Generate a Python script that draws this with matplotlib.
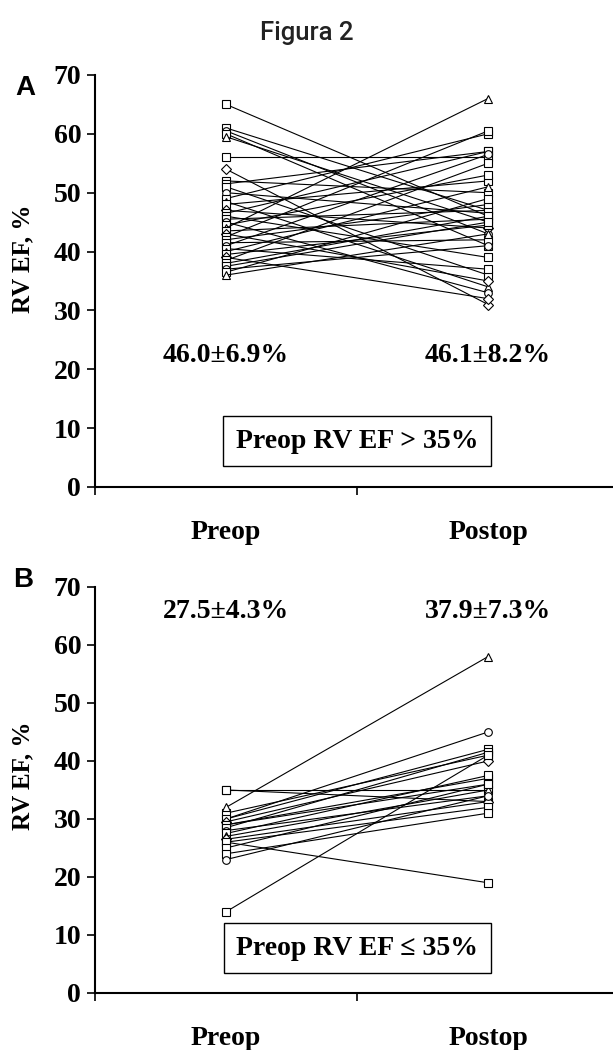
import matplotlib
matplotlib.use("Agg")
import matplotlib.pyplot as plt
import numpy as np

# panel A: preop RV EF > 35%
preop_a = [65, 61, 60.5, 60, 59.5, 56, 54, 52, 51.5, 51, 50, 49, 48.5, 48, 47,
           46.5, 46, 45.5, 45, 44.5, 44, 43.5, 43, 42.5, 42, 41.5, 41, 40.5,
           40, 39.5, 39, 38.5, 38, 37.5, 37, 36.5, 36]
postop_a = [46, 47, 43, 41, 45, 56, 31, 50, 57, 36, 46.5, 60, 34, 52, 44,
            57, 39, 47, 33, 53, 66, 45.5, 35, 60.5, 48, 42, 56.5, 37,
            51, 44.5, 32, 55, 46, 45, 41, 49, 43]

# panel B: preop RV EF <= 35%
preop_b = [35, 35, 30, 31, 32, 30, 29.5, 29, 29, 28.5, 28, 27.5, 27, 26,
           26.5, 26, 25, 24, 23, 14]
postop_b = [35, 33, 45, 41, 58, 42, 40, 37, 36, 41.5, 34, 37.5, 35, 19,
            33, 32, 36, 31, 34, 41]

groups = ["Preop", "Postop"]
stats_a = ["46.0\u00b16.9%", "46.1\u00b18.2%"]
stats_b = ["27.5\u00b14.3%", "37.9\u00b17.3%"]
box_a = "Preop RV EF > 35%"
box_b = "Preop RV EF \u2264 35%"

serif = "Liberation Serif"
markers = ["s", "s", "o", "s", "^", "s", "D", "s"]

fig = plt.figure(figsize=(6.13, 10.5), dpi=100)
fig.text(0.5, 0.969, "Figura 2", ha="center", va="center",
         fontsize=18.5, family="Roboto", fontweight="medium", color="#222222")


def panel(ax, pre, post, stats, stat_y, box, box_y, label_y):
    for i, (p, q) in enumerate(zip(pre, post)):
        ax.plot([0.5, 1.5], [p, q], color="black", linewidth=0.8,
                marker=markers[i % len(markers)], markersize=5.5,
                markerfacecolor="white", markeredgecolor="black",
                markeredgewidth=0.8, zorder=3)
    ax.set_xlim(0, 2)
    ax.set_ylim(0, 70)
    ax.set_yticks(np.arange(0, 71, 10))
    ax.set_xticks([0, 1, 2])
    ax.set_xticklabels([])
    ax.set_xticks([0.5, 1.5], groups, minor=True)
    ax.tick_params(axis="x", which="minor", length=0, pad=24)
    ax.tick_params(axis="both", which="major", direction="out", length=6,
                   width=1.2, pad=4)
    for lab in ax.get_yticklabels() + ax.get_xticklabels(minor=True):
        lab.set_family(serif)
        lab.set_fontweight("bold")
        lab.set_fontsize(20)
    ax.spines["top"].set_visible(False)
    ax.spines["right"].set_visible(False)
    ax.spines["left"].set_linewidth(1.5)
    ax.spines["bottom"].set_linewidth(1.5)
    ax.set_ylabel("RV EF, %", family=serif, fontweight="bold", fontsize=18)
    ax.yaxis.set_label_coords(-0.115, label_y)
    for x, s in zip([0.5, 1.5], stats):
        ax.text(x, stat_y, s, ha="center", va="center", family=serif,
                fontweight="bold", fontsize=20)
    ax.text(1.0, box_y, box, ha="center", va="center", family=serif,
            fontweight="bold", fontsize=20,
            bbox=dict(boxstyle="square,pad=0.45", facecolor="white",
                      edgecolor="black", linewidth=1.0))


ax_a = fig.add_axes([0.155, 0.5362, 0.855, 0.3924])
panel(ax_a, preop_a, postop_a, stats_a, 22.4, box_a, 7.8, 0.553)
ax_b = fig.add_axes([0.155, 0.0543, 0.855, 0.3867])
panel(ax_b, preop_b, postop_b, stats_b, 65.7, box_b, 7.7, 0.534)

fig.text(0.041, 0.916, "A", ha="center", va="center", fontsize=20,
         family="Liberation Sans", fontweight="bold")
fig.text(0.038, 0.448, "B", ha="center", va="center", fontsize=20,
         family="Liberation Sans", fontweight="bold")

fig.savefig("out.png", dpi=100)
